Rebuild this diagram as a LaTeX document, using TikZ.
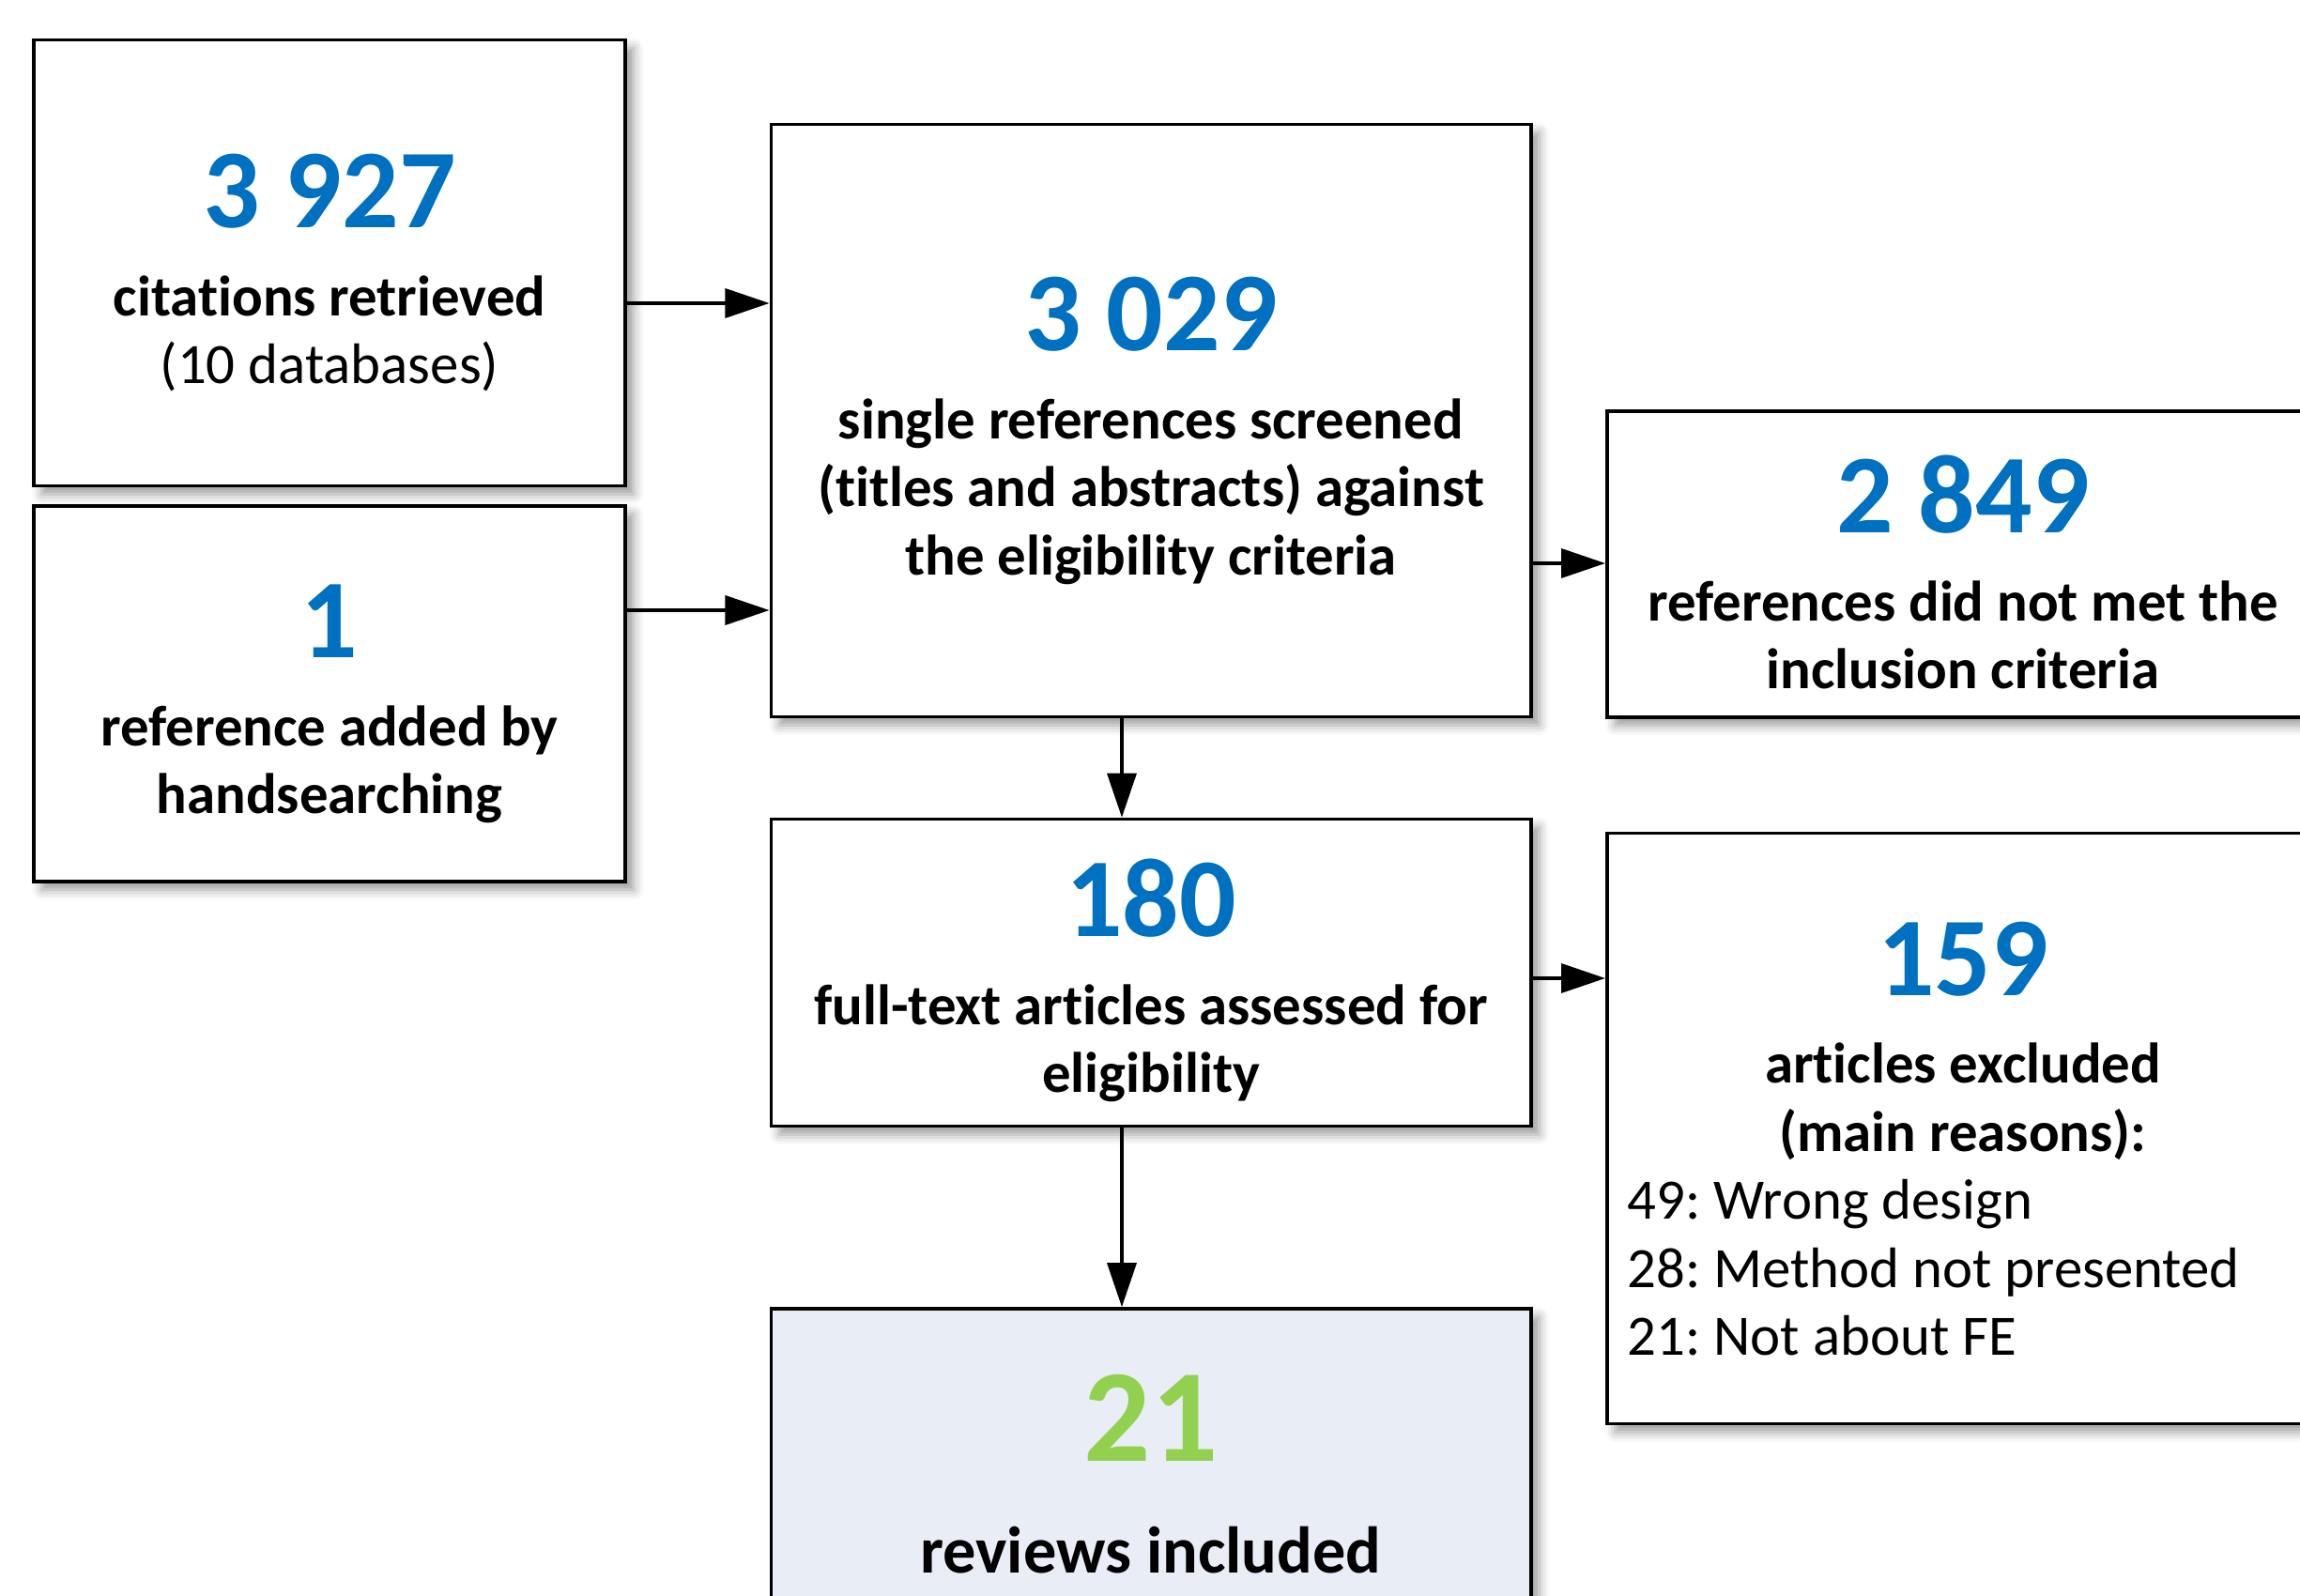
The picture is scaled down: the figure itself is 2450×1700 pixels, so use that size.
\documentclass[tikz,border=0pt]{standalone}
\usepackage{fontspec}
\setmainfont{Carlito}[Ligatures=NoCommon]
\usetikzlibrary{arrows.meta,shadows.blur,calc,positioning}
\definecolor{numblue}{HTML}{0070C0}
\definecolor{numgreen}{HTML}{92D050}
\definecolor{finalfill}{HTML}{E9EDF5}
\newcommand{\bignum}[2]{{\fontsize{34}{34}\selectfont\rule{0pt}{28.5pt}\color{#1}#2}}
\newcommand{\reason}[1]{\makebox[7.14cm][l]{\mdseries #1}}
\frenchspacing

\begin{document}
\begin{tikzpicture}[x=0.01cm, y=-0.01cm,
    box/.style={rectangle, draw=black, line width=1pt, fill=white, align=center,
        font=\bfseries\fontsize{17.3}{20.6}\selectfont,
        blur shadow={shadow xshift=2.5pt, shadow yshift=-2.5pt, shadow blur radius=3pt, shadow opacity=40}},
    link/.style={line width=1pt, -{Triangle[length=0.47cm, width=0.31cm]}}]
    \useasboundingbox (0,0) rectangle (2450,1700);

    % sources
    \node[box, minimum width=6.3cm, minimum height=4.75cm] (cit) at (351,280)
        {\bignum{numblue}{3 927}\\[6pt] citations retrieved\\ {\mdseries (10 databases)}};
    \node[box, minimum width=6.3cm, minimum height=4cm] (hand) at (351,739)
        {\bignum{numblue}{1}\\[6pt] reference added by\\ handsearching};

    % screening
    \node[box, minimum width=8.09cm, minimum height=6.31cm] (scr) at (1226,448)
        {\bignum{numblue}{3 029}\\[6pt] single references screened\\ (titles and abstracts) against\\ the eligibility criteria};
    \node[box, minimum width=7.58cm, minimum height=3.26cm] (notmet) at (2091,601)
        {\bignum{numblue}{2 849}\\[6pt] references did not met the\\ inclusion criteria};

    % full text
    \node[box, minimum width=8.09cm, minimum height=3.27cm] (full) at (1226,1036)
        {\bignum{numblue}{180}\\[6pt] full-text articles assessed for\\ eligibility};
    \node[box, minimum width=7.58cm, minimum height=6.29cm] (excl) at (2091,1202)
        {\bignum{numblue}{159}\\[6pt] articles excluded\\ (main reasons):\\
         \reason{49: Wrong design}\\ \reason{28: Method not presented}\\ \reason{21: Not about FE}};

    % included
    \node[box, fill=finalfill, minimum width=8.09cm, minimum height=3.52cm, font=\bfseries\fontsize{20}{24}\selectfont] (incl) at (1226,1570)
        {{\fontsize{40}{40}\selectfont\color{numgreen}21}\\[10pt] reviews included};

    % connectors
    \coordinate (r1) at (0,323);
    \coordinate (r2) at (0,650);
    \coordinate (r3) at (0,600);
    \coordinate (r4) at (0,1042);
    \coordinate (c1) at (1195,0);
    \draw[link] (cit.east |- r1) -- (scr.west |- r1);
    \draw[link] (hand.east |- r2) -- (scr.west |- r2);
    \draw[link] (scr.east |- r3) -- (notmet.west |- r3);
    \draw[link] (full.east |- r4) -- (excl.west |- r4);
    \draw[link] (scr.south -| c1) -- (full.north -| c1);
    \draw[link] (full.south -| c1) -- (incl.north -| c1);
\end{tikzpicture}
\end{document}
